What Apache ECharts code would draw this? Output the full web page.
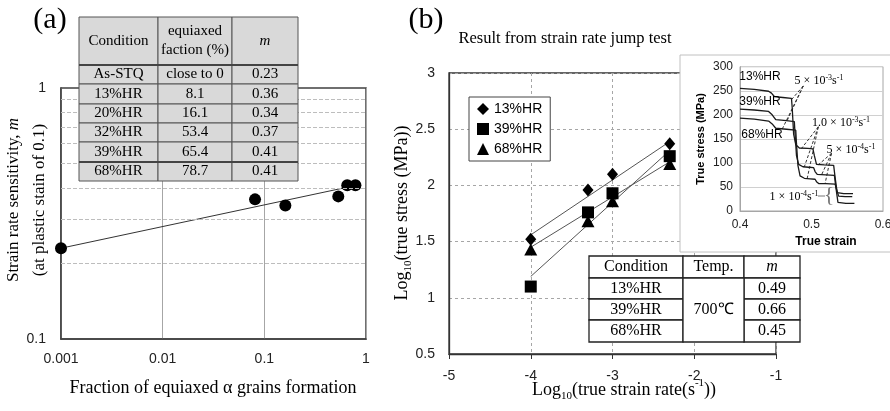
<!DOCTYPE html>
<html><head><meta charset="utf-8">
<script src="https://cdn.jsdelivr.net/npm/echarts/dist/echarts.min.js"></script>
<style>html,body{margin:0;padding:0;background:#fff}#c{width:890px;height:411px}</style>
</head><body><div id="c"></div><script>
// ---------- (a) data ----------
const fractionA = [0.001, 0.081, 0.161, 0.534, 0.654, 0.787];
const mA = [0.23, 0.36, 0.34, 0.37, 0.41, 0.41];
const trendAX = [0.001, 0.61];
const trendAM = [0.23, 0.40];
const minorGridA = [0.2, 0.3, 0.4, 0.5, 0.6, 0.7, 0.8, 0.9];
const tableAHeader = ['Condition', 'equiaxed\nfaction (%)', 'm'];
const tableACondition = ['As-STQ', '13%HR', '20%HR', '32%HR', '39%HR', '68%HR'];
const tableAFraction = ['close to 0', '8.1', '16.1', '53.4', '65.4', '78.7'];
const tableAM = ['0.23', '0.36', '0.34', '0.37', '0.41', '0.41'];

// ---------- (b) data ----------
const seriesNames = ['13%HR', '39%HR', '68%HR'];
const strainRateLog = [-4, -3.3, -3, -2.3];
const stress13 = [1.52, 1.96, 2.10, 2.37];
const stress39 = [1.10, 1.76, 1.93, 2.26];
const stress68 = [1.43, 1.68, 1.86, 2.19];
const fitX = [-4, -2.3];
const fit13 = [1.56, 2.39];
const fit39 = [1.19, 2.31];
const fit68 = [1.45, 2.21];
const tableBHeader = ['Condition', 'Temp.', 'm'];
const tableBCondition = ['13%HR', '39%HR', '68%HR'];
const tableBTemp = '700℃';
const tableBM = ['0.49', '0.66', '0.45'];

// ---------- inset data ----------
const inset13Strain = [0.400, 0.420, 0.440, 0.444, 0.448, 0.460, 0.472, 0.473, 0.475, 0.478, 0.483, 0.495, 0.502, 0.504, 0.507, 0.518, 0.531, 0.533, 0.536, 0.545, 0.558];
const inset13Stress = [255, 253, 249, 245, 238, 236, 234, 215, 160, 138, 131, 130, 129, 115, 97, 96, 95, 70, 38, 36, 36];
const inset39Strain = [0.400, 0.420, 0.440, 0.445, 0.450, 0.465, 0.476, 0.477, 0.479, 0.482, 0.488, 0.496, 0.503, 0.505, 0.508, 0.520, 0.532, 0.534, 0.537, 0.548, 0.560];
const inset39Stress = [212, 210, 207, 200, 190, 188, 186, 160, 115, 97, 92, 91, 90, 82, 76, 75, 74, 50, 18, 16, 16];
const inset68Strain = [0.400, 0.420, 0.440, 0.445, 0.450, 0.465, 0.478, 0.479, 0.481, 0.484, 0.490, 0.498, 0.505, 0.507, 0.510, 0.520, 0.533, 0.535, 0.538, 0.547, 0.557];
const inset68Stress = [193, 191, 187, 181, 172, 170, 168, 140, 95, 73, 68, 67, 66, 61, 57, 57, 56, 45, 31, 30, 30];
const leader5e3 = {from: [0.4885, 260], to: [[0.4723, 232], [0.4653, 186], [0.4583, 168]]};
const leader1e3 = {from: [0.5095, 175], to: [[0.486, 130], [0.490, 92], [0.494, 68]]};
const leader5e4 = {from: [0.528, 120], to: [[0.5095, 96], [0.514, 75], [0.519, 57]]};

// ---------- build ----------
const SERIF = '"Liberation Serif", "Times New Roman", serif';
const SANS = '"Liberation Sans", Arial, sans-serif';
const zip = (a, b) => a.map((v, i) => [v, b[i]]);
const chart = echarts.init(document.getElementById('c'), null, {renderer: 'canvas'});

const G = [];
function txt(x, y, text, o) {
  o = o || {};
  const st = {text: text, fill: o.fill || '#000', fontSize: o.size || 15, fontFamily: o.family || SERIF,
    fontStyle: o.style || 'normal', fontWeight: o.weight || 'normal',
    align: o.align || 'center', verticalAlign: 'middle', textAlign: o.align || 'center', textVerticalAlign: 'middle'};
  if (o.rich) st.rich = o.rich;
  if (o.lineHeight) st.lineHeight = o.lineHeight;
  G.push({type: 'text', x: x, y: y, rotation: o.rot || 0, z: o.z || 30, silent: true, style: st});
}
function rect(x0, y0, x1, y1, fill, stroke, lw, z) {
  G.push({type: 'rect', z: z, silent: true, shape: {x: x0, y: y0, width: x1 - x0, height: y1 - y0},
    style: {fill: fill, stroke: stroke, lineWidth: lw}});
}
function hline(x0, x1, y, color, lw, z) {
  G.push({type: 'line', z: z, silent: true, shape: {x1: x0, y1: y, x2: x1, y2: y}, style: {stroke: color, lineWidth: lw}});
}

// panel labels & titles
txt(50, 20, '(a)', {size: 30});
txt(426, 20, '(b)', {size: 30});
txt(565, 39, 'Result from strain rate jump test', {size: 16.5});

// (a) axis names
txt(14, 200, '{a|Strain rate sensitivity, }{i|m}', {rot: Math.PI / 2,
  rich: {a: {fontSize: 17, fontFamily: SERIF}, i: {fontSize: 17, fontFamily: SERIF, fontStyle: 'italic'}}});
txt(40, 200, '(at plastic stain of 0.1)', {size: 17, rot: Math.PI / 2});
txt(213, 388, 'Fraction of equiaxed α grains formation', {size: 18});

// (b) axis names
const subRich = {a: {fontSize: 18, fontFamily: SERIF, lineHeight: 24}, s: {fontSize: 11, fontFamily: SERIF, lineHeight: 11, verticalAlign: 'bottom'},
  p: {fontSize: 11, fontFamily: SERIF, lineHeight: 11, verticalAlign: 'top'}};
txt(402, 213, '{a|Log}{s|10}{a|(true stress (MPa))}', {rot: Math.PI / 2, rich: subRich});
txt(624, 390, '{a|Log}{s|10}{a|(true strain rate(s}{p|-1}{a|))}', {rich: subRich});

// (a) table
const colA = [79, 158, 232, 298];
const rowA = [17, 65, 84, 104, 123, 142, 162, 181];
for (let c = 0; c < 3; c++) for (let r = 0; r < 7; r++)
  rect(colA[c], rowA[r], colA[c + 1], rowA[r + 1], '#d9d9d9', '#555', 1, 20);
hline(colA[0], colA[3], rowA[1], '#444', 2.2, 21);
hline(colA[0], colA[3], rowA[6], '#444', 2.2, 21);
txt((colA[0] + colA[1]) / 2, 41, tableAHeader[0], {size: 15});
txt((colA[1] + colA[2]) / 2, 41, tableAHeader[1], {size: 15, lineHeight: 19});
txt((colA[2] + colA[3]) / 2, 41, tableAHeader[2], {size: 15, style: 'italic'});
for (let r = 0; r < 6; r++) {
  const yc = (rowA[r + 1] + rowA[r + 2]) / 2;
  txt((colA[0] + colA[1]) / 2, yc, tableACondition[r], {size: 15});
  txt((colA[1] + colA[2]) / 2, yc, tableAFraction[r], {size: 15});
  txt((colA[2] + colA[3]) / 2, yc, tableAM[r], {size: 15});
}

// inset box
rect(680, 55, 895, 252, '#fff', '#c0c0c0', 1, 10);
// (b) table
const colB = [589, 683, 744, 800];
const rowB = [256, 278, 299, 320, 342];
for (let c = 0; c < 3; c++) rect(colB[c], rowB[0], colB[c + 1], rowB[1], '#fff', '#222', 1.3, 20);
for (let r = 1; r < 4; r++) {
  rect(colB[0], rowB[r], colB[1], rowB[r + 1], '#fff', '#222', 1.3, 20);
  rect(colB[2], rowB[r], colB[3], rowB[r + 1], '#fff', '#222', 1.3, 20);
}
rect(colB[1], rowB[1], colB[2], rowB[4], '#fff', '#222', 1.3, 20);
txt((colB[0] + colB[1]) / 2, 267, tableBHeader[0], {size: 16});
txt((colB[1] + colB[2]) / 2, 267, tableBHeader[1], {size: 16});
txt((colB[2] + colB[3]) / 2, 267, tableBHeader[2], {size: 16, style: 'italic'});
for (let r = 0; r < 3; r++) {
  const yc = (rowB[r + 1] + rowB[r + 2]) / 2;
  txt((colB[0] + colB[1]) / 2, yc, tableBCondition[r], {size: 16});
  txt((colB[2] + colB[3]) / 2, yc, tableBM[r], {size: 16});
}
txt((colB[1] + colB[2]) / 2, (rowB[1] + rowB[4]) / 2, tableBTemp, {size: 16});

// inset texts
txt(760, 77, '13%HR', {size: 12, family: SANS});
txt(760, 102, '39%HR', {size: 12, family: SANS});
txt(762, 135, '68%HR', {size: 12, family: SANS});
const supRich = {a: {fontSize: 12, fontFamily: SERIF, lineHeight: 15}, p: {fontSize: 8, fontFamily: SERIF, lineHeight: 8, verticalAlign: 'top'}};
txt(819, 81, '{a|5 × 10}{p|-3}{a|s}{p|-1}', {rich: supRich});
txt(841, 123, '{a|1.0 × 10}{p|-3}{a|s}{p|-1}', {rich: supRich});
txt(851, 150, '{a|5 × 10}{p|-4}{a|s}{p|-1}', {rich: supRich});
txt(794, 197, '{a|1 × 10}{p|-4}{a|s}{p|-1}', {rich: supRich});
txt(829, 195, '{', {size: 22, fill: '#777', family: SERIF});
hline(818, 825, 196, '#777', 1, 30);
txt(701, 139, 'True stress (MPa)', {size: 11, family: SANS, weight: 'bold', rot: Math.PI / 2});
txt(826, 242, 'True strain', {size: 12, family: SANS, weight: 'bold'});

// series
const series = [];
series.push({type: 'line', xAxisIndex: 0, yAxisIndex: 0, data: zip(trendAX, trendAM), symbol: 'none', z: 2,
  lineStyle: {color: '#333', width: 1},
  markLine: {silent: true, symbol: ['none', 'none'], label: {show: false}, animation: false,
    lineStyle: {type: 'dashed', color: '#bdbdbd', width: 1}, data: minorGridA.map(v => ({yAxis: v}))}});
series.push({type: 'scatter', xAxisIndex: 0, yAxisIndex: 0, data: zip(fractionA, mA), symbol: 'circle', symbolSize: 12, z: 3,
  itemStyle: {color: '#000', opacity: 1}});
const bStress = [stress13, stress39, stress68];
const bSym = ['diamond', 'rect', 'triangle'];
const bSize = [[11, 13], [12, 12], [13, 12]];
bStress.forEach((s, i) => series.push({type: 'scatter', name: seriesNames[i], xAxisIndex: 1, yAxisIndex: 1,
  data: zip(strainRateLog, s), symbol: bSym[i], symbolSize: bSize[i], z: 3, itemStyle: {color: '#000', opacity: 1}}));
[fit13, fit39, fit68].forEach(f => series.push({type: 'line', xAxisIndex: 1, yAxisIndex: 1, data: zip(fitX, f),
  symbol: 'none', z: 2, lineStyle: {color: '#555', width: 1}}));
[[inset13Strain, inset13Stress], [inset39Strain, inset39Stress], [inset68Strain, inset68Stress]].forEach(c =>
  series.push({type: 'line', xAxisIndex: 2, yAxisIndex: 2, data: zip(c[0], c[1]), symbol: 'none', z: 14,
    lineStyle: {color: '#1a1a1a', width: 1.3}}));
[leader5e3, leader1e3, leader5e4].forEach(L => L.to.forEach(p =>
  series.push({type: 'line', xAxisIndex: 2, yAxisIndex: 2, data: [L.from, p], symbol: 'none', z: 13,
    lineStyle: {color: '#333', width: 1, type: [3, 2]}})));

const fmt = v => String(parseFloat(Number(v).toPrecision(6)));
const lbl = (size, margin, extra) => Object.assign({color: '#222', fontSize: size, fontFamily: SANS, margin: margin}, extra || {});

chart.setOption({
  animation: false,
  backgroundColor: '#fff',
  graphic: {elements: G},
  legend: {data: seriesNames, left: 469, top: 97, orient: 'vertical', borderColor: '#444', borderWidth: 1,
    padding: [5, 8, 5, 8], itemGap: 6, itemWidth: 12, itemHeight: 12, itemTextGap: 5, backgroundColor: '#fff',
    itemStyle: {opacity: 1}, textStyle: {fontSize: 14, fontFamily: SANS, color: '#000'}},
  grid: [
    {left: 61, top: 88, width: 305, height: 251, show: true, borderColor: '#404040', borderWidth: 1.5, outerBoundsMode: 'none', containLabel: false},
    {left: 449, top: 73, width: 327, height: 281, show: true, borderColor: '#333', borderWidth: 1.3, outerBoundsMode: 'none', containLabel: false},
    {left: 740, top: 66.7, width: 143, height: 144.3, show: true, borderColor: '#a6a6a6', borderWidth: 1, z: 11, outerBoundsMode: 'none', containLabel: false}
  ],
  xAxis: [
    {type: 'log', logBase: 10, gridIndex: 0, min: 0.001, max: 1, axisLine: {lineStyle: {color: '#404040', width: 1.5}},
      axisTick: {show: false}, axisLabel: lbl(14, 13, {formatter: fmt}), splitLine: {show: true, lineStyle: {color: '#a6a6a6', width: 1}}},
    {type: 'value', gridIndex: 1, min: -5, max: -1, interval: 1, axisLine: {lineStyle: {color: '#333', width: 1.3}},
      axisTick: {show: true, inside: false, length: 5, lineStyle: {color: '#333'}}, axisLabel: lbl(14, 15),
      splitLine: {show: true, lineStyle: {color: '#a6a6a6', type: [3, 3], width: 1}}},
    {type: 'value', gridIndex: 2, min: 0.4, max: 0.6, interval: 0.1, z: 11, axisLine: {lineStyle: {color: '#a6a6a6'}},
      axisTick: {show: false}, axisLabel: lbl(12, 8, {formatter: v => v.toFixed(1)}), splitLine: {show: false}}
  ],
  yAxis: [
    {type: 'log', logBase: 10, gridIndex: 0, min: 0.1, max: 1, axisLine: {lineStyle: {color: '#404040', width: 1.5}},
      axisTick: {show: false}, axisLabel: lbl(14, 15, {formatter: fmt}), splitLine: {show: false}},
    {type: 'value', gridIndex: 1, min: 0.5, max: 3, interval: 0.5, axisLine: {show: true, lineStyle: {color: '#333', width: 1.3}},
      axisTick: {show: false}, axisLabel: lbl(14, 14),
      splitLine: {show: true, lineStyle: {color: '#a6a6a6', type: [3, 3], width: 1}}},
    {type: 'value', gridIndex: 2, min: 0, max: 300, interval: 50, z: 11, axisLine: {show: true, lineStyle: {color: '#a6a6a6'}},
      axisTick: {show: false}, axisLabel: lbl(12, 7), splitLine: {show: true, lineStyle: {color: '#d0d0d0', width: 1}}}
  ],
  series: series
});
</script></body></html>
